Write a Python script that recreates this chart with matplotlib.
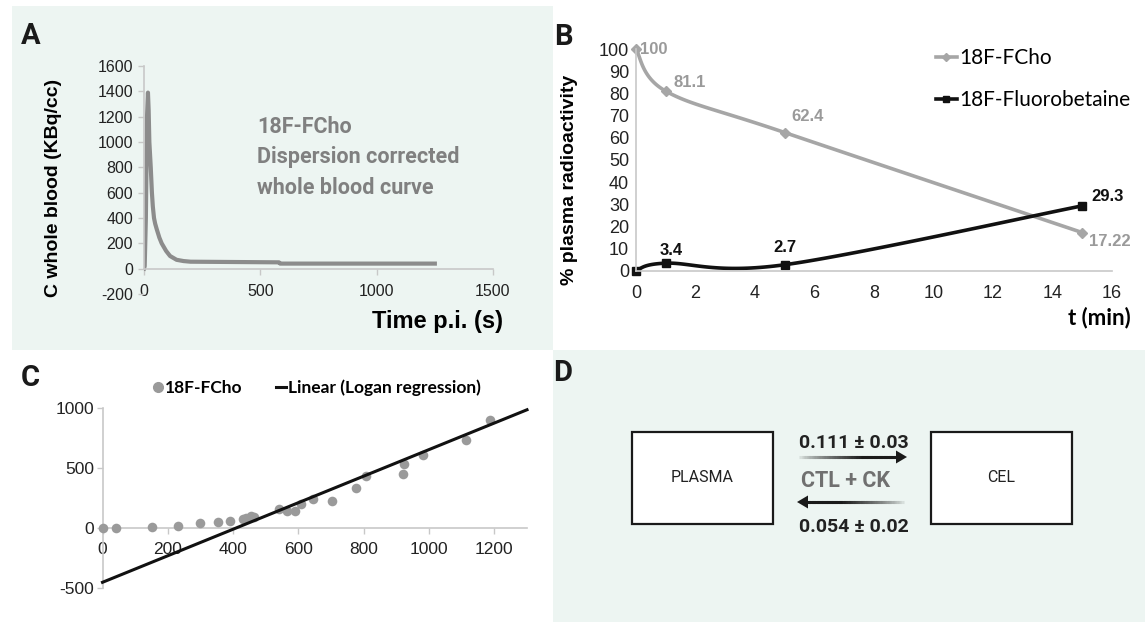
import numpy as np
import matplotlib as mpl
import matplotlib.pyplot as plt
from matplotlib.collections import LineCollection
from matplotlib.colors import to_rgb
from matplotlib.patches import Rectangle, Polygon
from matplotlib.lines import Line2D

mpl.use('Agg')
plt.rcParams['font.family'] = ['Liberation Sans', 'DejaVu Sans']
plt.rcParams['axes.unicode_minus'] = False

W, H = 1145, 622
MINT = '#edf5f2'
AXIS_GREY = '#c8c8c8'

# panel A: dispersion corrected whole blood curve
a_time = [0, 3, 8, 13, 17, 20, 23, 29, 34, 38, 43, 48, 55, 66, 76, 95, 112, 140, 170, 200, 580, 585, 1250]
a_conc = [0, 20, 400, 1200, 1390, 1250, 1000, 800, 600, 490, 400, 355, 310, 245, 200, 140, 100, 70, 60, 55, 50, 40, 40]
a_note = ['18F-FCho', 'Dispersion corrected', 'whole blood curve']

# panel B: plasma metabolites
b_time = [0, 1, 5, 15]
b_fcho = [100, 81.1, 62.4, 17.22]
b_fbet = [0, 3.4, 2.7, 29.3]
b_names = ['18F-FCho', '18F-Fluorobetaine']

# panel C: Logan plot
c_x = [0, 41, 151, 230, 298, 355, 391, 430, 438, 455, 464, 539, 566, 591, 608, 646, 703,
       776, 806, 920, 924, 981, 1114, 1187]
c_y = [5, 5, 14, 22, 42, 55, 64, 78, 83, 103, 97, 158, 147, 147, 203, 244, 227,
       340, 437, 451, 538, 611, 736, 903]
c_slope = 1.106
c_icept = -450
c_names = ['18F-FCho', 'Linear (Logan regression)']

# panel D: compartment model
d_boxes = ['PLASMA', 'CEL']
d_k_in = '0.111 ± 0.03'
d_k_out = '0.054 ± 0.02'
d_group = 'CTL + CK'


def px_axes(fig, left, top, right, bottom):
    ax = fig.add_axes([left / W, 1 - bottom / H, (right - left) / W, (bottom - top) / H], zorder=2)
    ax.patch.set_alpha(0)
    return ax


def smooth(ax, xs, ys, n=40):
    """Excel-like smoothed line (Catmull-Rom through the points, in screen space)"""
    pts = ax.transData.transform(np.column_stack([xs, ys]))
    p = np.vstack([pts[0], pts, pts[-1]])
    t = np.linspace(0, 1, n)[:, None]
    out = []
    for i in range(1, len(p) - 2):
        p0, p1, p2, p3 = p[i - 1], p[i], p[i + 1], p[i + 2]
        c1 = p1 + (p2 - p0) / 6
        c2 = p2 - (p3 - p1) / 6
        out.append((1 - t) ** 3 * p1 + 3 * (1 - t) ** 2 * t * c1 + 3 * (1 - t) * t ** 2 * c2 + t ** 3 * p2)
    curve = ax.transData.inverted().transform(np.vstack(out))
    return curve[:, 0], curve[:, 1]


def fade_arrow(ax, x_tail, x_tip, y):
    """Arrow whose shaft fades from the background colour into black"""
    d = np.sign(x_tip - x_tail)
    x_base = x_tip - d * 11
    xs = np.linspace(x_tail, x_base, 41)
    step = xs[1] - xs[0]
    segs = [[(xs[i], y), (xs[i + 1] + 0.5 * step, y)] for i in range(len(xs) - 1)]
    bgc, ink = np.array(to_rgb(MINT)), np.array(to_rgb('#1a1a1a'))
    a = np.clip(np.linspace(0, 1.5, len(segs)), 0, 1) ** 0.7
    cols = [tuple(bgc + (ink - bgc) * v) for v in a]
    ax.add_collection(LineCollection(segs, colors=cols, linewidths=2.2, capstyle='butt'))
    ax.add_patch(Polygon([(x_tip, y), (x_base, y - 6.5), (x_base, y + 6.5)], closed=True,
                         color='#1a1a1a', lw=0))


def style_axis(ax, size, color='#222222'):
    for s in ('top', 'right'):
        ax.spines[s].set_visible(False)
    for s in ('left', 'bottom'):
        ax.spines[s].set_color(AXIS_GREY)
        ax.spines[s].set_linewidth(1.2)
    ax.tick_params(colors=AXIS_GREY, labelcolor=color, labelsize=size, width=1)


fig = plt.figure(figsize=(W / 100, H / 100), dpi=100)
bg = fig.add_axes([0, 0, 1, 1], zorder=0)
bg.set_xlim(0, W)
bg.set_ylim(H, 0)
bg.axis('off')
bg.add_patch(Rectangle((12, 6), 541, 344, color=MINT, lw=0))
bg.add_patch(Rectangle((553, 350), 592, 272, color=MINT, lw=0))

letter_kw = dict(family='Roboto', weight='bold', fontsize=21, color='#1a1a1a', va='center', ha='left')
for txt, x, y in [('A', 21, 36), ('B', 554, 37), ('C', 21, 378), ('D', 553, 373)]:
    bg.text(x, y, txt, **letter_kw)

# ---- A
axA = px_axes(fig, 144, 66, 493, 294)
axA.plot(a_time, a_conc, color='#8c8c8c', lw=3, solid_joinstyle='round')
axA.set_xlim(0, 1500)
axA.set_ylim(-200, 1600)
axA.set_xticks([0, 500, 1000, 1500])
axA.set_yticks(np.arange(-200, 1601, 200))
style_axis(axA, 11.5)
axA.spines['bottom'].set_position(('data', 0))
axA.spines['left'].set_bounds(0, 1600)
axA.tick_params(axis='x', length=4, pad=7)
axA.tick_params(axis='y', length=4, pad=4)
axA.set_ylabel('C whole blood (KBq/cc)', fontsize=14, weight='bold')
axA.yaxis.set_label_coords((54 - 144) / 349, (294 - 188) / 228)
axA.yaxis.label.set_va('center')
axA.set_xlabel('Time p.i. (s)', fontsize=17, weight='bold', ha='right')
axA.xaxis.set_label_coords((503 - 144) / 349, (294 - 322) / 228)
axA.xaxis.label.set_va('center')
for i, line in enumerate(a_note):
    bg.text(257, 127 + 30.5 * i, line, family='Roboto', weight='bold', fontsize=15.5,
            color='#808080', va='center', ha='left')

# ---- B
axB = px_axes(fig, 636, 49.3, 1112, 270.7)
axB.set_xlim(0, 16)
axB.set_ylim(0, 100)
axB.set_xticks(np.arange(0, 17, 2))
axB.set_yticks(np.arange(0, 101, 10))
style_axis(axB, 13)
axB.tick_params(length=0)
axB.tick_params(axis='x', pad=10)
axB.tick_params(axis='y', pad=5)
sx, sy = smooth(axB, b_time, b_fcho)
axB.plot(sx, sy, color='#a6a6a6', lw=2.6, clip_on=False)
axB.plot(b_time, b_fcho, ls='none', marker='D', ms=5, color='#a6a6a6', clip_on=False)
sx, sy = smooth(axB, b_time, b_fbet)
axB.plot(sx, sy, color='#111111', lw=2.6, clip_on=False)
axB.plot(b_time, b_fbet, ls='none', marker='s', ms=6, color='#111111', clip_on=False)
fcho_off = [(4, 0, 'left'), (24, 9, 'center'), (23, 16, 'center'), (28, -9, 'center')]
fbet_off = [(None, None, None), (5, 13, 'center'), (0, 17, 'center'), (25, 9, 'center')]
for vals, offs, col in [(b_fcho, fcho_off, '#9a9a9a'), (b_fbet, fbet_off, '#111111')]:
    for t, v, (dx, dy, ha) in zip(b_time, vals, offs):
        if dx is None:
            continue
        axB.annotate(f'{v:g}', (t, v), xytext=(dx * 0.72, dy * 0.72), textcoords='offset points',
                     ha=ha, va='center', fontsize=12, weight='bold', color=col, annotation_clip=False)
axB.set_ylabel('% plasma radioactivity', fontsize=14, weight='bold')
axB.yaxis.set_label_coords((569 - 636) / 476, (270.7 - 180) / 221.4)
axB.yaxis.label.set_va('center')
axB.set_xlabel('t (min)', family='Lato', fontsize=16, weight='bold', ha='right')
axB.xaxis.set_label_coords((1131 - 636) / 476, (270.7 - 318) / 221.4)
axB.xaxis.label.set_va('center')
hB = [Line2D([], [], color='#a6a6a6', lw=2.6, marker='D', ms=4),
      Line2D([], [], color='#111111', lw=2.6, marker='s', ms=4)]
axB.legend(hB, b_names, loc='upper left', bbox_to_anchor=(936 / W, 1 - 48 / H),
           bbox_transform=fig.transFigure, frameon=False, handlelength=1.0, handletextpad=0.1,
           labelspacing=1.05, borderaxespad=0, borderpad=0, prop=dict(family='Lato', size=15))

# ---- C
axC = px_axes(fig, 102.5, 408.3, 527, 588.3)
axC.set_xlim(0, 1300)
axC.set_ylim(-500, 1000)
axC.set_xticks(np.arange(0, 1201, 200))
axC.set_yticks([-500, 0, 500, 1000])
style_axis(axC, 12.5)
axC.spines['bottom'].set_position(('data', 0))
axC.tick_params(axis='x', length=4, pad=6)
axC.tick_params(axis='y', length=4, pad=2)
axC.scatter(c_x, c_y, s=48, color='#9a9a9a', lw=0, zorder=3, clip_on=False)
lx = np.array([0, 1300])
axC.plot(lx, c_slope * lx + c_icept, color='#111111', lw=2.2, zorder=4, clip_on=False)
hC = [Line2D([], [], ls='none', marker='o', ms=7, color='#9a9a9a'),
      Line2D([], [], color='#111111', lw=2.2)]
axC.legend(hC, c_names, loc='center', bbox_to_anchor=(317 / W, 1 - 388 / H),
           bbox_transform=fig.transFigure, frameon=False, ncol=2, handlelength=0.6,
           handletextpad=0.1, columnspacing=1.9, borderaxespad=0, borderpad=0,
           prop=dict(family='Lato', size=12.5, weight='bold'))

# ---- D
for name, x0 in zip(d_boxes, [632, 931]):
    bg.add_patch(Rectangle((x0, 432), 141, 92, facecolor='white', edgecolor='#1a1a1a', lw=1.6))
    bg.text(x0 + 70.5, 478, name, family='Roboto', fontsize=11.5, color='#222222', ha='center', va='center')
num_kw = dict(family='Roboto', weight='bold', fontsize=14, color='#222222', ha='center', va='center')
bg.text(854, 443, d_k_in, **num_kw)
bg.text(854, 527, d_k_out, **num_kw)
bg.text(801, 481, d_group, family='Roboto', weight='bold', fontsize=15.5, color='#707070', ha='left', va='center')
fade_arrow(bg, 797, 907, 457)
fade_arrow(bg, 906, 797, 502)

fig.savefig('out.png', dpi=100)
